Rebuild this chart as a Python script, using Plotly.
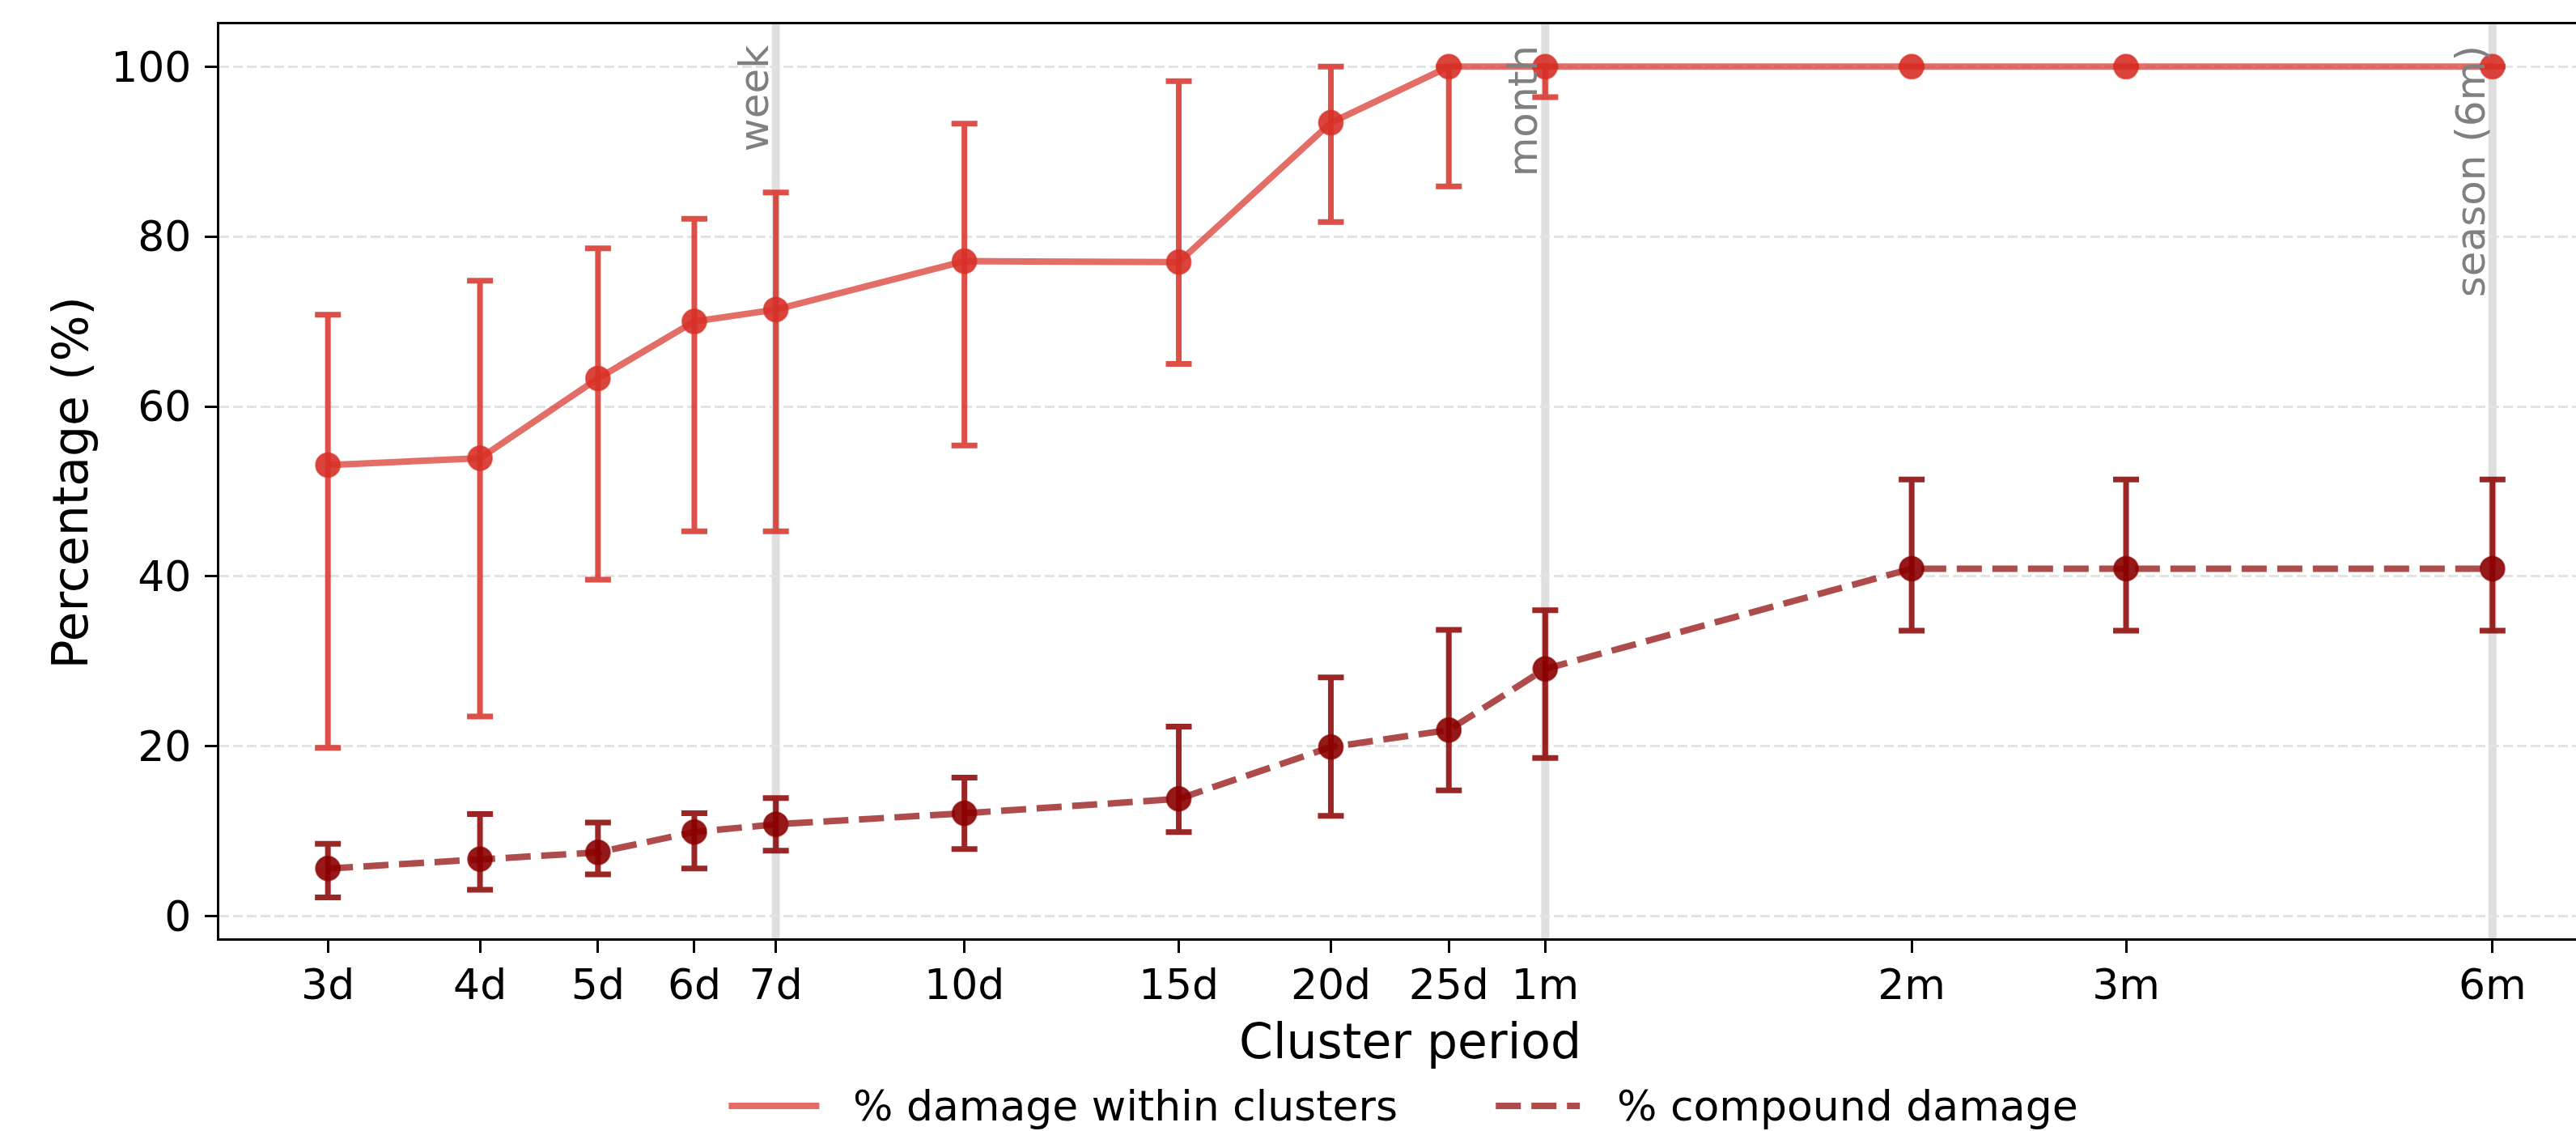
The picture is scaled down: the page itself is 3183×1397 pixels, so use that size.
import math
import plotly.graph_objects as go

# ---------------- data ----------------
days = [3, 4, 5, 6, 7, 10, 15, 20, 25, 30, 60, 90, 180]
tick_labels = ["3d", "4d", "5d", "6d", "7d", "10d", "15d", "20d", "25d", "1m", "2m", "3m", "6m"]

within = [53.1, 53.9, 63.3, 70.0, 71.4, 77.1, 77.0, 93.4, 100, 100, 100, 100, 100]
within_hi = [70.8, 74.8, 78.6, 82.1, 85.2, 93.3, 98.3, 100, 100, 100, 100, 100, 100]
within_lo = [19.8, 23.5, 39.6, 45.3, 45.3, 55.4, 65.0, 81.7, 85.9, 96.4, 100, 100, 100]

compound = [5.6, 6.7, 7.5, 9.9, 10.8, 12.1, 13.8, 19.9, 21.9, 29.1, 40.9, 40.9, 40.9]
compound_hi = [8.5, 12.0, 11.0, 12.1, 13.9, 16.3, 22.3, 28.1, 33.7, 36.0, 51.4, 51.4, 51.4]
compound_lo = [2.2, 3.1, 4.9, 5.6, 7.7, 7.9, 9.9, 11.8, 14.8, 18.6, 33.6, 33.6, 33.6]

ref_days = [7, 30, 180]
ref_labels = ["week", "month", "season (6m)"]

series_names = ["% damage within clusters", "% compound damage"]

# ---------------- styling ----------------
W, H = 3183, 1397
L, R, T, B = 270.5, 0, 30, 238
plot_w = W - L - R
plot_h = H - T - B
FONT = "DejaVu Sans"

RED = (215, 48, 39)
DARK = (139, 0, 0)


def rgba(c, a):
    return f"rgba({c[0]},{c[1]},{c[2]},{a})"


def px_to_paper_x(px):
    return (px - L) / plot_w


def px_to_paper_y(py):
    return 1 - (py - T) / plot_h


fig = go.Figure()

# red series: line then markers + error bars
fig.add_trace(go.Scatter(
    x=days, y=within, mode="lines",
    line=dict(color=rgba(RED, 0.7), width=8),
    showlegend=False, hoverinfo="skip"))
fig.add_trace(go.Scatter(
    x=days, y=within, mode="markers",
    marker=dict(size=30, color=rgba(RED, 0.9), line=dict(color=rgba(RED, 0.6), width=2)),
    error_y=dict(type="data", symmetric=False,
                 array=[h - v for h, v in zip(within_hi, within)],
                 arrayminus=[v - l for v, l in zip(within, within_lo)],
                 color=rgba(RED, 0.85), thickness=7, width=16),
    showlegend=False))

# dark series
fig.add_trace(go.Scatter(
    x=days, y=compound, mode="lines",
    line=dict(color=rgba(DARK, 0.7), width=8, dash="31px,13px"),
    showlegend=False, hoverinfo="skip"))
fig.add_trace(go.Scatter(
    x=days, y=compound, mode="markers",
    marker=dict(size=30, color=rgba(DARK, 0.9), line=dict(color=rgba(DARK, 0.6), width=2)),
    error_y=dict(type="data", symmetric=False,
                 array=[h - v for h, v in zip(compound_hi, compound)],
                 arrayminus=[v - l for v, l in zip(compound, compound_lo)],
                 color=rgba(DARK, 0.85), thickness=7, width=16),
    showlegend=False))

shapes = []
annotations = []

# reference vertical lines + labels
for d, lab in zip(ref_days, ref_labels):
    shapes.append(dict(type="line", xref="x", yref="paper", x0=d, x1=d, y0=0, y1=1,
                       line=dict(color="rgba(128,128,128,0.25)", width=10), layer="below"))
    annotations.append(dict(x=math.log10(d), xref="x", y=px_to_paper_y(54), yref="paper",
                            text=lab, textangle=-90, showarrow=False,
                            xanchor="right", yanchor="top", xshift=4,
                            font=dict(family=FONT, size=50, color="rgba(128,128,128,1)")))

# custom legend
leg_y = px_to_paper_y(1366)
shapes.append(dict(type="line", xref="paper", yref="paper",
                   x0=px_to_paper_x(900), x1=px_to_paper_x(1012), y0=leg_y, y1=leg_y,
                   line=dict(color=rgba(RED, 0.7), width=8)))
annotations.append(dict(x=px_to_paper_x(1052), y=leg_y, xref="paper", yref="paper",
                        text=series_names[0], showarrow=False, xanchor="left", yanchor="middle",
                        font=dict(family=FONT, size=52, color="black")))
shapes.append(dict(type="line", xref="paper", yref="paper",
                   x0=px_to_paper_x(1848), x1=px_to_paper_x(1952), y0=leg_y, y1=leg_y,
                   line=dict(color=rgba(DARK, 0.7), width=8, dash="31px,13px")))
annotations.append(dict(x=px_to_paper_x(1996), y=leg_y, xref="paper", yref="paper",
                        text=series_names[1], showarrow=False, xanchor="left", yanchor="middle",
                        font=dict(family=FONT, size=52, color="black")))

# axis titles
annotations.append(dict(x=px_to_paper_x(1742), y=px_to_paper_y(1286), xref="paper", yref="paper",
                        text="Cluster period", showarrow=False, xanchor="center", yanchor="middle",
                        font=dict(family=FONT, size=60, color="black")))
annotations.append(dict(x=px_to_paper_x(86), y=px_to_paper_y(597), xref="paper", yref="paper",
                        text="Percentage (%)", showarrow=False, textangle=-90,
                        xanchor="center", yanchor="middle",
                        font=dict(family=FONT, size=60, color="black")))

x_lo = math.log10(2.443)
x_hi = math.log10(210.8)

fig.update_layout(
    width=W, height=H,
    margin=dict(l=L, r=R, t=T, b=B, pad=0),
    paper_bgcolor="white", plot_bgcolor="white",
    font=dict(family=FONT, size=52, color="black"),
    showlegend=False,
    shapes=shapes,
    annotations=annotations,
    xaxis=dict(type="log", range=[x_lo, x_hi],
               tickmode="array", tickvals=days, ticktext=tick_labels,
               showgrid=False, zeroline=False,
               showline=True, linecolor="black", linewidth=3.3, mirror=True,
               ticks="outside", ticklen=15, tickwidth=3.3, tickcolor="black",
               tickfont=dict(family=FONT, size=52, color="black"),
               ticklabelstandoff=-6),
    yaxis=dict(range=[-2.62, 104.99],
               tickmode="array", tickvals=[0, 20, 40, 60, 80, 100],
               showgrid=True, gridcolor="#e3e3e3", gridwidth=3.3, griddash="12px,5px",
               zeroline=False,
               showline=True, linecolor="black", linewidth=3.3, mirror=False,
               ticks="outside", ticklen=15, tickwidth=3.3, tickcolor="black",
               tickfont=dict(family=FONT, size=52, color="black"),
               ticklabelstandoff=6),
)

fig.write_html(
    "out.html",
    config={"displayModeBar": False},
    post_script=("document.body.style.margin='0px';"
                 "document.body.style.padding='0px';"
                 "document.body.style.overflow='hidden';"
                 "document.documentElement.style.overflow='hidden';"),
)
